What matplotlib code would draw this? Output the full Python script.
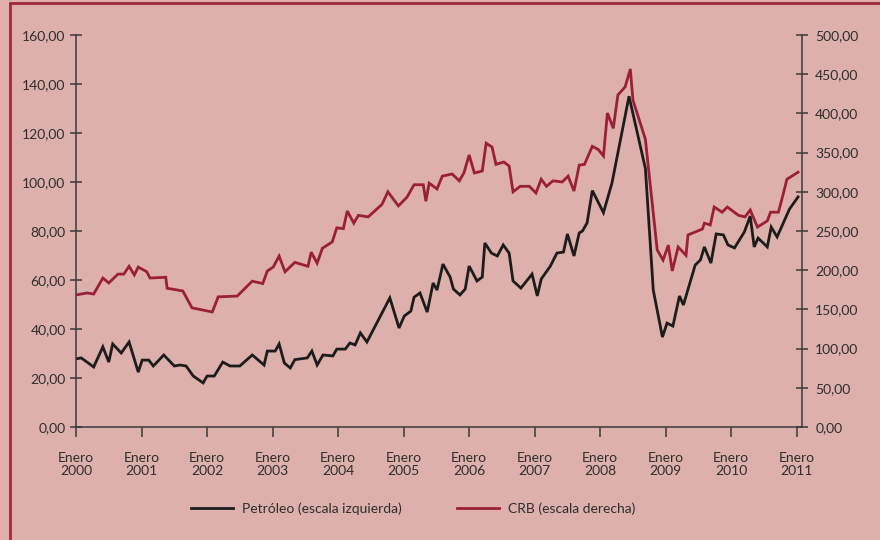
import matplotlib.pyplot as plt
from matplotlib.patches import Rectangle
from matplotlib.ticker import FuncFormatter

plt.rcParams['font.family'] = ['Lato', 'DejaVu Sans']

# Petróleo (escala izquierda): fecha en años decimales, valor
oil_x = [2000.00, 2000.08, 2000.27, 2000.41, 2000.50, 2000.56, 2000.69, 2000.81, 2000.95, 2001.01,
         2001.11, 2001.18, 2001.34, 2001.50, 2001.59, 2001.68, 2001.79, 2001.94, 2002.00, 2002.11,
         2002.24, 2002.35, 2002.50, 2002.69, 2002.87, 2002.92, 2003.04, 2003.10, 2003.18, 2003.27,
         2003.34, 2003.53, 2003.60, 2003.68, 2003.77, 2003.92, 2003.98, 2004.11, 2004.18, 2004.26,
         2004.34, 2004.44, 2004.79, 2004.93, 2005.01, 2005.11, 2005.16, 2005.25, 2005.36, 2005.45,
         2005.51, 2005.60, 2005.71, 2005.76, 2005.86, 2005.94, 2006.00, 2006.12, 2006.20, 2006.24,
         2006.34, 2006.43, 2006.52, 2006.61, 2006.67, 2006.79, 2006.96, 2007.04, 2007.10, 2007.24,
         2007.34, 2007.44, 2007.50, 2007.60, 2007.68, 2007.73, 2007.80, 2007.88, 2008.05, 2008.18,
         2008.44, 2008.69, 2008.81, 2008.95, 2009.02, 2009.11, 2009.21, 2009.27, 2009.45, 2009.53,
         2009.59, 2009.69, 2009.77, 2009.88, 2009.95, 2010.05, 2010.20, 2010.29, 2010.35, 2010.41,
         2010.55, 2010.61, 2010.70, 2010.89, 2011.02]
oil_y = [27.8, 28.2, 24.5, 32.7, 26.5, 33.9, 30.2, 34.7, 22.4, 27.3,
         27.3, 24.9, 29.4, 24.9, 25.3, 24.9, 20.8, 18.0, 20.8, 20.8,
         26.5, 24.9, 24.9, 29.4, 25.3, 31.0, 31.0, 33.9, 26.1, 24.1,
         27.5, 28.2, 31.0, 25.3, 29.4, 29.0, 31.8, 31.8, 34.3, 33.5,
         38.4, 34.7, 52.7, 40.4, 45.3, 47.3, 53.0, 54.7, 46.9, 58.8,
         55.9, 66.5, 61.2, 56.3, 53.9, 56.3, 65.7, 59.6, 61.2, 75.1,
         71.0, 69.8, 74.3, 71.0, 59.6, 56.7, 62.4, 53.5, 60.4, 65.7,
         71.0, 71.4, 78.8, 69.8, 79.2, 80.0, 83.3, 96.5, 87.5, 99.6,
         135.0, 105.5, 55.9, 36.7, 42.4, 41.2, 53.5, 49.8, 66.1, 68.2,
         73.5, 66.9, 78.8, 78.4, 74.3, 73.1, 79.6, 86.1, 73.5, 77.1,
         73.5, 81.6, 77.6, 89.0, 93.9]

# CRB (escala derecha)
crb_x = [2000.00, 2000.17, 2000.27, 2000.41, 2000.50, 2000.64, 2000.73, 2000.81, 2000.89, 2000.95,
         2001.08, 2001.13, 2001.37, 2001.39, 2001.63, 2001.77, 2002.08, 2002.17, 2002.46, 2002.69,
         2002.85, 2002.92, 2003.01, 2003.10, 2003.19, 2003.34, 2003.54, 2003.59, 2003.68, 2003.76,
         2003.91, 2003.98, 2004.08, 2004.14, 2004.24, 2004.31, 2004.46, 2004.67, 2004.76, 2004.92,
         2005.05, 2005.16, 2005.30, 2005.34, 2005.39, 2005.51, 2005.59, 2005.74, 2005.85, 2005.92,
         2006.00, 2006.08, 2006.20, 2006.26, 2006.35, 2006.41, 2006.53, 2006.61, 2006.67, 2006.78,
         2006.92, 2007.02, 2007.10, 2007.18, 2007.28, 2007.42, 2007.51, 2007.60, 2007.68, 2007.76,
         2007.88, 2007.97, 2008.05, 2008.11, 2008.20, 2008.27, 2008.38, 2008.46, 2008.50, 2008.69,
         2008.87, 2008.96, 2009.04, 2009.10, 2009.19, 2009.31, 2009.34, 2009.56, 2009.59, 2009.68,
         2009.74, 2009.86, 2009.94, 2010.11, 2010.21, 2010.29, 2010.40, 2010.55, 2010.60, 2010.72,
         2010.79, 2010.85, 2011.02]
crb_y = [168.4, 171.0, 169.6, 190.0, 183.7, 195.0, 195.0, 205.0, 194.0, 204.0,
         198.0, 190.0, 191.0, 177.0, 173.5, 152.0, 146.7, 166.0, 167.0, 186.0,
         183.0, 199.0, 204.0, 218.0, 198.0, 210.0, 205.0, 223.0, 209.0, 228.0,
         236.0, 254.0, 253.0, 275.5, 260.0, 270.0, 268.0, 284.0, 300.0, 282.0,
         293.0, 309.0, 309.0, 288.0, 311.0, 303.6, 320.0, 322.7, 314.0, 324.0,
         347.0, 324.0, 326.5, 362.0, 357.0, 335.0, 338.0, 333.0, 300.0, 307.0,
         307.0, 298.5, 316.0, 307.0, 314.0, 312.5, 320.0, 301.0, 334.0, 335.0,
         358.0, 354.0, 345.7, 400.5, 381.0, 423.5, 433.7, 456.6, 417.0, 367.0,
         225.8, 213.0, 232.0, 199.0, 229.6, 219.0, 245.0, 252.5, 260.0, 257.7,
         280.6, 274.0, 280.6, 270.0, 268.0, 276.8, 255.0, 262.8, 274.0, 274.0,
         296.0, 316.0, 325.0]

years = list(range(2000, 2012))
left_ticks = [0, 20, 40, 60, 80, 100, 120, 140, 160]
right_ticks = [0, 50, 100, 150, 200, 250, 300, 350, 400, 450, 500]

bg = '#ddb0ab'
red = '#9b1f36'
black = '#1c1c1c'
axis_col = '#3a3a3a'
text_col = '#2e2e2e'

fig = plt.figure(figsize=(8.8, 5.4), dpi=100, facecolor=bg)
fig.patches.append(Rectangle((10 / 880, -0.1), 1.2, 1.1 - 3 / 540, transform=fig.transFigure,
                             fill=False, edgecolor='#a3283c', linewidth=2.0))

ax = fig.add_axes([76 / 880, 1 - 427 / 540, (802 - 76) / 880, (427 - 35) / 540])
ax.set_facecolor('none')
ax2 = ax.twinx()

ax.plot(oil_x, oil_y, color=black, lw=2.0, solid_joinstyle='miter', label='Petróleo (escala izquierda)')
ax2.plot(crb_x, crb_y, color=red, lw=2.0, solid_joinstyle='miter', label='CRB (escala derecha)')

ax.set_xlim(2000, 2011.08)
ax.set_ylim(0, 160)
ax2.set_ylim(0, 500)

fmt = FuncFormatter(lambda v, p: f'{v:.2f}'.replace('.', ','))
ax.set_yticks(left_ticks)
ax2.set_yticks(right_ticks)
ax.yaxis.set_major_formatter(fmt)
ax2.yaxis.set_major_formatter(fmt)
ax.set_xticks(years)
ax.set_xticklabels([f'Enero\n{y}' for y in years], linespacing=1.1)

for a in (ax, ax2):
    for s in a.spines.values():
        s.set_color(axis_col)
        s.set_linewidth(1.1)
    a.spines['top'].set_visible(False)
ax.spines['right'].set_visible(False)
ax2.spines['left'].set_visible(False)
ax2.spines['bottom'].set_visible(False)

ax.tick_params(axis='y', direction='inout', length=9, width=1.1, color=axis_col,
               labelsize=10, labelcolor=text_col, pad=3)
ax2.tick_params(axis='y', direction='inout', length=9, width=1.1, color=axis_col,
                labelsize=10, labelcolor=text_col, pad=5)
ax.tick_params(axis='x', direction='out', length=7, width=1.1, color=axis_col,
               labelsize=10, labelcolor=text_col, pad=11)

h1, l1 = ax.get_legend_handles_labels()
h2, l2 = ax2.get_legend_handles_labels()
fig.legend(h1 + h2, l1 + l2, loc='center', bbox_to_anchor=(413 / 880, 1 - 509 / 540),
           ncol=2, frameon=False, fontsize=10, handlelength=3.0, columnspacing=4.0,
           handletextpad=0.65, labelcolor=text_col)

fig.savefig('out.png', dpi=100, facecolor=bg)
